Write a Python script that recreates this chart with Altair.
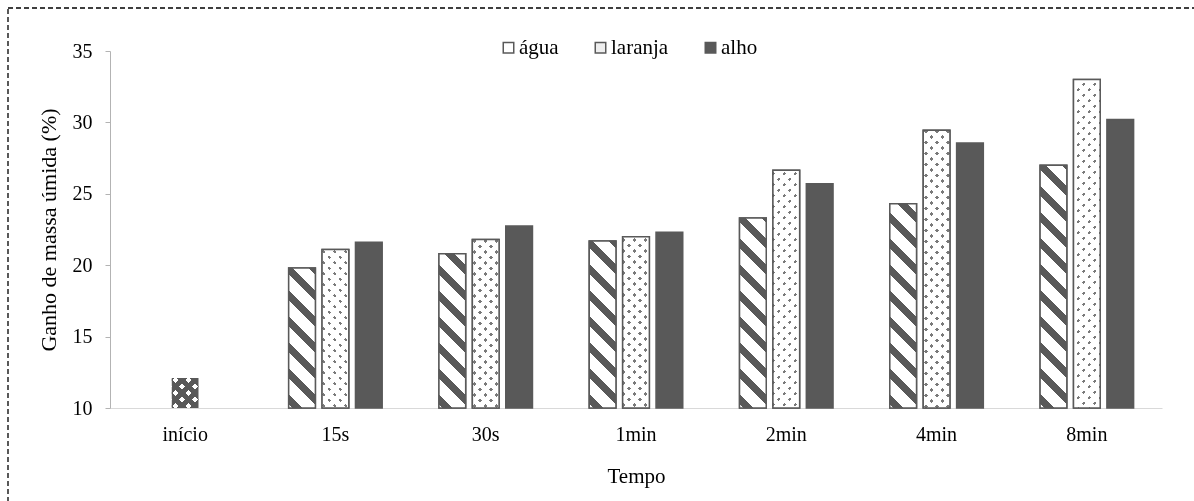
import altair as alt

# ---- data ----
tempos = ["início", "15s", "30s", "1min", "2min", "4min", "8min"]
series = ["água", "laranja", "alho"]
inicio_valor = 12.1
agua = [19.8, 20.8, 21.7, 23.3, 24.3, 27.0]
laranja = [21.1, 21.8, 22.0, 26.65, 29.45, 33.0]
alho = [21.6, 22.75, 22.3, 25.7, 28.55, 30.2]

# ---- layout constants ----
FONT = "Liberation Serif"
Y_MIN, Y_MAX = 10, 35
PLOT_W, PLOT_H = 1052, 357
PAD_X_INNER, PAD_X_OUTER = 1 / 3, 1 / 6
PAD_O_INNER, PAD_O_OUTER = 0.2, 0.1
DARK = "#595959"
DOT = "#7a7a7a"

px_per_unit = PLOT_H / (Y_MAX - Y_MIN)
cat_step = PLOT_W / (len(tempos) - PAD_X_INNER + 2 * PAD_X_OUTER)
group_w = cat_step * (1 - PAD_X_INNER)
sub_step = group_w / (len(series) - PAD_O_INNER + 2 * PAD_O_OUTER)
bar_w = sub_step * (1 - PAD_O_INNER)


def stripes(W, H, kind, period, width, on, off, phase=0.0):
    """Linear gradient (bounding-box units) that draws 45-degree stripes."""
    L = W + H
    k = L / (W * W + H * H)
    if kind == "/":
        x1, y1, x2, y2 = 0, 0, k * W, k * H
    else:
        x1, y1, x2, y2 = 0, 1, k * W, 1 - k * H
    stops = []
    s = phase - period
    while s < L:
        for p, q, col in ((s, s + width, on), (s + width, s + period, off)):
            p2, q2 = max(p, 0.0), min(q, L)
            if q2 > p2:
                stops.append({"offset": round(p2 / L, 5), "color": col})
                stops.append({"offset": round(q2 / L, 5), "color": col})
        s += period
    return {"gradient": "linear", "x1": x1, "y1": y1, "x2": x2, "y2": y2, "stops": stops}


records = []
for i, t in enumerate(tempos[1:]):
    for s, vals in zip(series, [agua, laranja, alho]):
        v = vals[i]
        H = (v - Y_MIN) * px_per_unit
        rec = {"tempo": t, "serie": s, "valor": v}
        if s == "água":
            rec["g1"] = stripes(bar_w, H, "\\", 26, 10, DARK, "#ffffff", 4)
        elif s == "laranja":
            rec["g1"] = stripes(bar_w, H, "/", 11, 3.8, DOT, "#ffffff", 2)
            rec["g2"] = stripes(bar_w, H, "\\", 11, 3.8, DOT, "#ffffff", 2)
        records.append(rec)

H0 = (inicio_valor - Y_MIN) * px_per_unit
records.append({
    "tempo": tempos[0], "serie": "início", "valor": inicio_valor,
    "g1": stripes(bar_w, H0, "/", 13, 5.5, "#ffffff", DARK, 3),
    "g2": stripes(bar_w, H0, "\\", 13, 5.5, "#ffffff", DARK, 3),
})

X = alt.X(
    "tempo:N",
    scale=alt.Scale(domain=tempos, paddingInner=PAD_X_INNER, paddingOuter=PAD_X_OUTER),
    axis=alt.Axis(title="Tempo", labelAngle=0, ticks=False, labelFontSize=20,
                  titleFontSize=21, labelPadding=16, titlePadding=21,
                  domainColor="#d9d9d9"),
)
XO = alt.XOffset("serie:N", scale=alt.Scale(domain=series, paddingInner=PAD_O_INNER,
                                             paddingOuter=PAD_O_OUTER))
Y = alt.Y(
    "valor:Q",
    scale=alt.Scale(domain=[Y_MIN, Y_MAX], zero=False, nice=False),
    axis=alt.Axis(values=[10, 15, 20, 25, 30, 35], title="Ganho de massa úmida (%)",
                  labelFontSize=20, titleFontSize=22, tickSize=5, labelPadding=13,
                  titlePadding=12, domainColor="#b3b3b3", tickColor="#b3b3b3"),
)
Y2 = alt.datum(Y_MIN)

legend = alt.Legend(
    orient="none", legendX=383, legendY=-14, direction="horizontal", title=None,
    symbolType="square", symbolSize=110, symbolStrokeWidth=1.5, symbolOffset=5,
    labelFont=FONT, labelFontSize=21, labelOffset=0, columnPadding=26, padding=0,
    labelColor="black",
)

base = alt.Chart().transform_filter(
    alt.FieldOneOfPredicate(field="serie", oneOf=series)
).mark_bar(strokeWidth=1.5).encode(
    x=X, xOffset=XO, y=Y, y2=Y2,
    fill=alt.Fill("serie:N", scale=alt.Scale(domain=series, range=["#ffffff", "#eeeeee", DARK]),
                  legend=legend),
    stroke=alt.Stroke("serie:N", scale=alt.Scale(domain=series, range=[DARK, DARK, DARK]),
                      legend=legend),
)

agua_fill = alt.Chart().transform_filter(alt.datum.serie == "água").mark_bar(
    strokeWidth=0
).encode(x=X, xOffset=XO, y=Y, y2=Y2, fill=alt.Fill("g1:N", scale=None, legend=None))

lar_fill1 = alt.Chart().transform_filter(alt.datum.serie == "laranja").mark_bar(
    strokeWidth=0
).encode(x=X, xOffset=XO, y=Y, y2=Y2, fill=alt.Fill("g1:N", scale=None, legend=None))

lar_fill2 = alt.Chart().transform_filter(alt.datum.serie == "laranja").mark_bar(
    strokeWidth=0, blend="lighten"
).encode(x=X, xOffset=XO, y=Y, y2=Y2, fill=alt.Fill("g2:N", scale=None, legend=None))

outline = alt.Chart().transform_filter(
    alt.FieldOneOfPredicate(field="serie", oneOf=["água", "laranja"])
).mark_bar(fillOpacity=0, stroke=DARK, strokeWidth=1.5).encode(
    x=X, xOffset=XO, y=Y, y2=Y2
)

ini1 = alt.Chart().transform_filter(alt.datum.serie == "início").mark_bar(
    size=bar_w, strokeWidth=0
).encode(x=X, y=Y, y2=Y2, fill=alt.Fill("g1:N", scale=None, legend=None))

ini2 = alt.Chart().transform_filter(alt.datum.serie == "início").mark_bar(
    size=bar_w, strokeWidth=0, blend="darken"
).encode(x=X, y=Y, y2=Y2, fill=alt.Fill("g2:N", scale=None, legend=None))

border = alt.Chart(alt.Data(values=[{"k": 1}])).mark_rect(
    fillOpacity=0, stroke="black", strokeDash=[5, 3], strokeWidth=1.3
).encode(x=alt.value(-102), x2=alt.value(1100), y=alt.value(-43), y2=alt.value(470))

chart = alt.layer(
    border, base, agua_fill, lar_fill1, lar_fill2, outline, ini1, ini2,
    data=alt.Data(values=records),
).properties(
    width=PLOT_W, height=PLOT_H,
    autosize=alt.AutoSizeParams(type="none"),
    padding={"left": 110, "top": 51, "right": 32, "bottom": 93},
    background="white",
).configure(
    font=FONT,
).configure_axis(
    labelFont=FONT, titleFont=FONT, labelColor="black", titleColor="black",
    titleFontWeight="normal", grid=False,
).configure_legend(
    labelFont=FONT, labelFontSize=21, labelOffset=0, columnPadding=26, symbolOffset=5,
    labelColor="black", symbolType="square", symbolSize=110, symbolStrokeWidth=1.5,
    padding=0,
).configure_view(strokeWidth=0)

chart.save("out.html", embed_options={"renderer": "svg", "actions": False})
